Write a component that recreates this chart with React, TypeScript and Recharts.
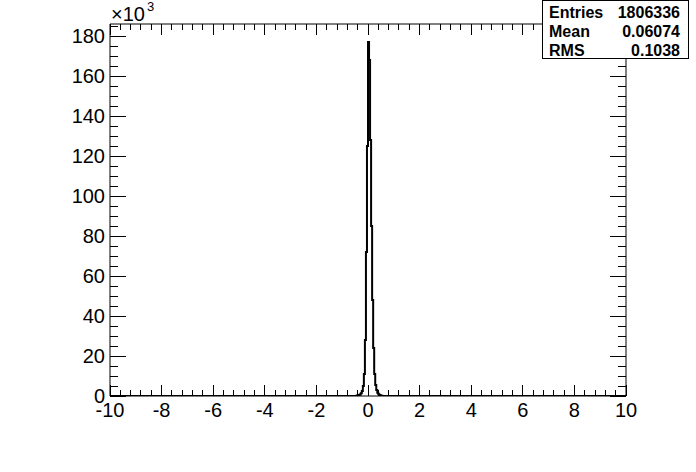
import { LineChart, Line, XAxis, YAxis } from 'recharts';

// histogram of 1806336 entries, counts per 0.04 bin (in thousands)
const binStart = -0.44;
const binWidth = 0.04;
const counts = [
  0.2, 0.3, 0.5, 0.8, 1.4, 2.5, 5, 11, 28, 72, 125, 177, 168, 128, 85, 48, 24,
  11, 5.5, 3, 1.6, 0.9, 0.5, 0.3, 0.15,
];

const xMajorTicks = [-10, -8, -6, -4, -2, 0, 2, 4, 6, 8, 10];
const yMajorTicks = [0, 20, 40, 60, 80, 100, 120, 140, 160, 180];
const xDomain: [number, number] = [-10, 10];
const yDomain: [number, number] = [0, 186];

const stats = [
  ['Entries', '1806336'],
  ['Mean', '0.06074'],
  ['RMS', '0.1038'],
];

const FONT = '"Liberation Sans", Arial, Helvetica, sans-serif';

const minorTicks = (majors: number[], parts: number, min: number, max: number) => {
  const step = (majors[1] - majors[0]) / parts;
  const out: number[] = [];
  for (let v = min; v <= max + 1e-9; v += step) out.push(Math.round(v * 1000) / 1000);
  return out;
};

const xTicks = minorTicks(xMajorTicks, 5, -10, 10);
const yTicks = minorTicks(yMajorTicks, 4, 0, 186);

const histData = [
  { x: xDomain[0], y: 0 },
  ...counts.map((c, i) => ({ x: Math.round((binStart + i * binWidth) * 1000) / 1000, y: c })),
  { x: Math.round((binStart + counts.length * binWidth) * 1000) / 1000, y: 0 },
  { x: xDomain[1], y: 0 },
];

const isMajor = (list: number[], v: number) => list.includes(v);

const BottomTick = ({ x, y, payload }: any) => {
  const major = isMajor(xMajorTicks, payload.value);
  return (
    <g>
      <line x1={x} x2={x} y1={y} y2={y - (major ? 11 : 6)} stroke="#000" shapeRendering="crispEdges" />
      {major && (
        <text x={x} y={y + 21} textAnchor="middle" fontFamily={FONT} fontSize={20} fill="#000">
          {payload.value}
        </text>
      )}
    </g>
  );
};

const TopTick = ({ x, y, payload }: any) => {
  const major = isMajor(xMajorTicks, payload.value);
  return (
    <line x1={x} x2={x} y1={y} y2={y + (major ? 11 : 6)} stroke="#000" shapeRendering="crispEdges" />
  );
};

const LeftTick = ({ x, y, payload }: any) => {
  const major = isMajor(yMajorTicks, payload.value);
  return (
    <g>
      <line x1={x} x2={x + (major ? 16 : 8)} y1={y} y2={y} stroke="#000" shapeRendering="crispEdges" />
      {major && (
        <text x={x - 5} y={y + 7} textAnchor="end" fontFamily={FONT} fontSize={20} fill="#000">
          {payload.value}
        </text>
      )}
    </g>
  );
};

const RightTick = ({ x, y, payload }: any) => {
  const major = isMajor(yMajorTicks, payload.value);
  return (
    <line x1={x} x2={x - (major ? 16 : 8)} y1={y} y2={y} stroke="#000" shapeRendering="crispEdges" />
  );
};

export default function App() {
  return (
    <div style={{ position: 'absolute', left: 0, top: 0, width: 696, height: 472, background: '#fff' }}>
      <LineChart width={696} height={472} data={histData} margin={{ top: 0, right: 0, bottom: 0, left: 0 }}>
        <XAxis
          dataKey="x"
          type="number"
          domain={xDomain}
          allowDataOverflow
          ticks={xTicks}
          interval={0}
          height={76}
          tickSize={0}
          tickMargin={0}
          tickLine={false}
          axisLine={{ stroke: '#000' }}
          tick={(p: any) => <BottomTick {...p} />}
        />
        <XAxis
          xAxisId="top"
          orientation="top"
          dataKey="x"
          type="number"
          domain={xDomain}
          allowDataOverflow
          ticks={xTicks}
          interval={0}
          height={24}
          tickSize={0}
          tickMargin={0}
          tickLine={false}
          axisLine={{ stroke: '#000' }}
          tick={(p: any) => <TopTick {...p} />}
        />
        <YAxis
          type="number"
          domain={yDomain}
          allowDataOverflow
          ticks={yTicks}
          interval={0}
          width={110}
          tickSize={0}
          tickMargin={0}
          tickLine={false}
          axisLine={{ stroke: '#000' }}
          tick={(p: any) => <LeftTick {...p} />}
        />
        <YAxis
          yAxisId="right"
          orientation="right"
          type="number"
          domain={yDomain}
          allowDataOverflow
          ticks={yTicks}
          interval={0}
          width={70}
          tickSize={0}
          tickMargin={0}
          tickLine={false}
          axisLine={{ stroke: '#000' }}
          tick={(p: any) => <RightTick {...p} />}
        />
        <Line
          dataKey="y"
          type="stepAfter"
          stroke="#000"
          strokeWidth={2}
          dot={false}
          activeDot={false}
          isAnimationActive={false}
        />
      </LineChart>
      <svg width={696} height={472} style={{ position: 'absolute', left: 0, top: 0, pointerEvents: 'none' }}>
        <text x={111} y={21} fontFamily={FONT} fontSize={20} fill="#000">
          ×10
        </text>
        <text x={147} y={11} fontFamily={FONT} fontSize={13} fill="#000">
          3
        </text>
        <rect x={542.5} y={0.5} width={146} height={58} fill="#fff" stroke="#000" shapeRendering="crispEdges" />
        {stats.map(([label, value], i) => (
          <g key={label} fontFamily={FONT} fontSize={16} fontWeight="bold" fill="#000">
            <text x={549} y={18 + i * 19}>{label}</text>
            <text x={680} y={18 + i * 19} textAnchor="end">{value}</text>
          </g>
        ))}
      </svg>
    </div>
  );
}
